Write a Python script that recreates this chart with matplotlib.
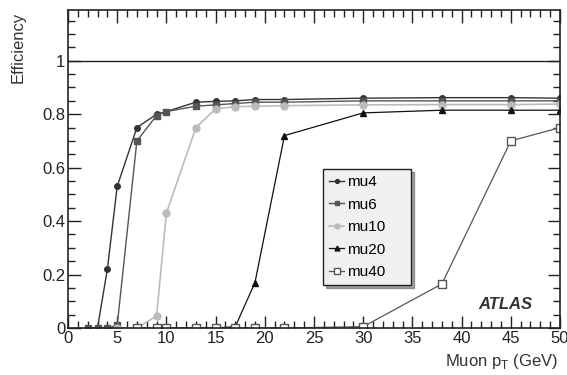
import matplotlib.pyplot as plt
from matplotlib.ticker import MultipleLocator

plt.rcParams['font.family'] = ['Liberation Sans', 'DejaVu Sans']

# trigger thresholds, efficiency vs muon pT
pt_mu4 = [2, 3, 4, 5, 7, 9, 10, 13, 15, 17, 19, 22, 30, 38, 45, 50]
eff_mu4 = [0, 0, 0.22, 0.53, 0.75, 0.80, 0.81, 0.845, 0.848, 0.85, 0.855, 0.855, 0.86, 0.862, 0.862, 0.86]

pt_mu6 = [2, 3, 4, 5, 7, 9, 10, 13, 15, 17, 19, 22, 30, 38, 45, 50]
eff_mu6 = [0, 0, 0, 0.01, 0.70, 0.795, 0.81, 0.83, 0.835, 0.84, 0.845, 0.845, 0.85, 0.85, 0.85, 0.85]

pt_mu10 = [5, 7, 9, 10, 13, 15, 17, 19, 22, 30, 38, 45, 50]
eff_mu10 = [0, 0, 0.045, 0.43, 0.75, 0.82, 0.828, 0.83, 0.832, 0.835, 0.836, 0.836, 0.838]

pt_mu20 = [9, 10, 13, 15, 17, 19, 22, 30, 38, 45, 50]
eff_mu20 = [0, 0, 0, 0, 0.005, 0.17, 0.72, 0.805, 0.815, 0.815, 0.815]

pt_mu40 = [7, 9, 10, 13, 15, 17, 19, 22, 30, 38, 45, 50]
eff_mu40 = [0, 0, 0, 0, 0, 0, 0, 0, 0.005, 0.165, 0.70, 0.75]

fig = plt.figure(figsize=(5.67, 3.75), dpi=100)
ax = fig.add_axes([68 / 567, 1 - 328 / 375, 492 / 567, 318 / 375])

ax.axhline(1.0, color='#222222', lw=1.0)

ax.plot(pt_mu4, eff_mu4, '-o', color='#333333', ms=4, lw=1, label='mu4')
ax.plot(pt_mu6, eff_mu6, '-s', color='#555555', ms=5, lw=1, label='mu6')
ax.plot(pt_mu10, eff_mu10, '-o', color='#bbbbbb', ms=5, lw=1.2, label='mu10')
ax.plot(pt_mu20, eff_mu20, '-^', color='#111111', ms=5, lw=0.9, label='mu20')
ax.plot(pt_mu40, eff_mu40, '-s', color='#555555', mfc='white', ms=6, lw=0.9,
        label='mu40')

ax.set_xlim(0, 50)
ax.set_ylim(0, 1.19)
ax.set_yticks([0, 0.2, 0.4, 0.6, 0.8, 1])
ax.set_yticklabels(['0', '0.2', '0.4', '0.6', '0.8', '1'])
ax.xaxis.set_major_locator(MultipleLocator(5))
ax.xaxis.set_minor_locator(MultipleLocator(1))
ax.yaxis.set_minor_locator(MultipleLocator(0.05))
ax.tick_params(which='both', direction='in', top=True, right=True,
               labelsize=12, colors='#222222', pad=2)
ax.tick_params(which='major', length=9, width=1)
ax.tick_params(which='minor', length=5, width=1)
for s in ax.spines.values():
    s.set_linewidth(1.2)
    s.set_color('#222222')

# axis titles placed ROOT-style at the ends of the axes
fig.text(18 / 567, 1 - 12 / 375, 'Efficiency', rotation=90, ha='center', va='top',
         fontsize=12, color='#333333')
fig.text(558 / 567, 1 - 366 / 375, 'Muon p$_\\mathregular{T}$ (GeV)', ha='right',
         va='baseline', fontsize=12, color='#333333')

leg = ax.legend(loc='lower left', bbox_to_anchor=(0.518, 0.135, 0.18, 0.395),
                mode='expand', fontsize=11, handlelength=1.0, handletextpad=0.2,
                borderaxespad=0, labelspacing=0.55, fancybox=False, shadow=True,
                frameon=True, markerscale=0.7)
leg.get_frame().set_facecolor('#f0f0f0')
leg.get_frame().set_edgecolor('#222222')
leg.get_frame().set_linewidth(1.0)

ax.text(0.945, 0.075, 'ATLAS', transform=ax.transAxes, ha='right', va='center',
        fontsize=12, fontweight='bold', fontstyle='italic', color='#333333')

fig.savefig('out.png', dpi=100)
